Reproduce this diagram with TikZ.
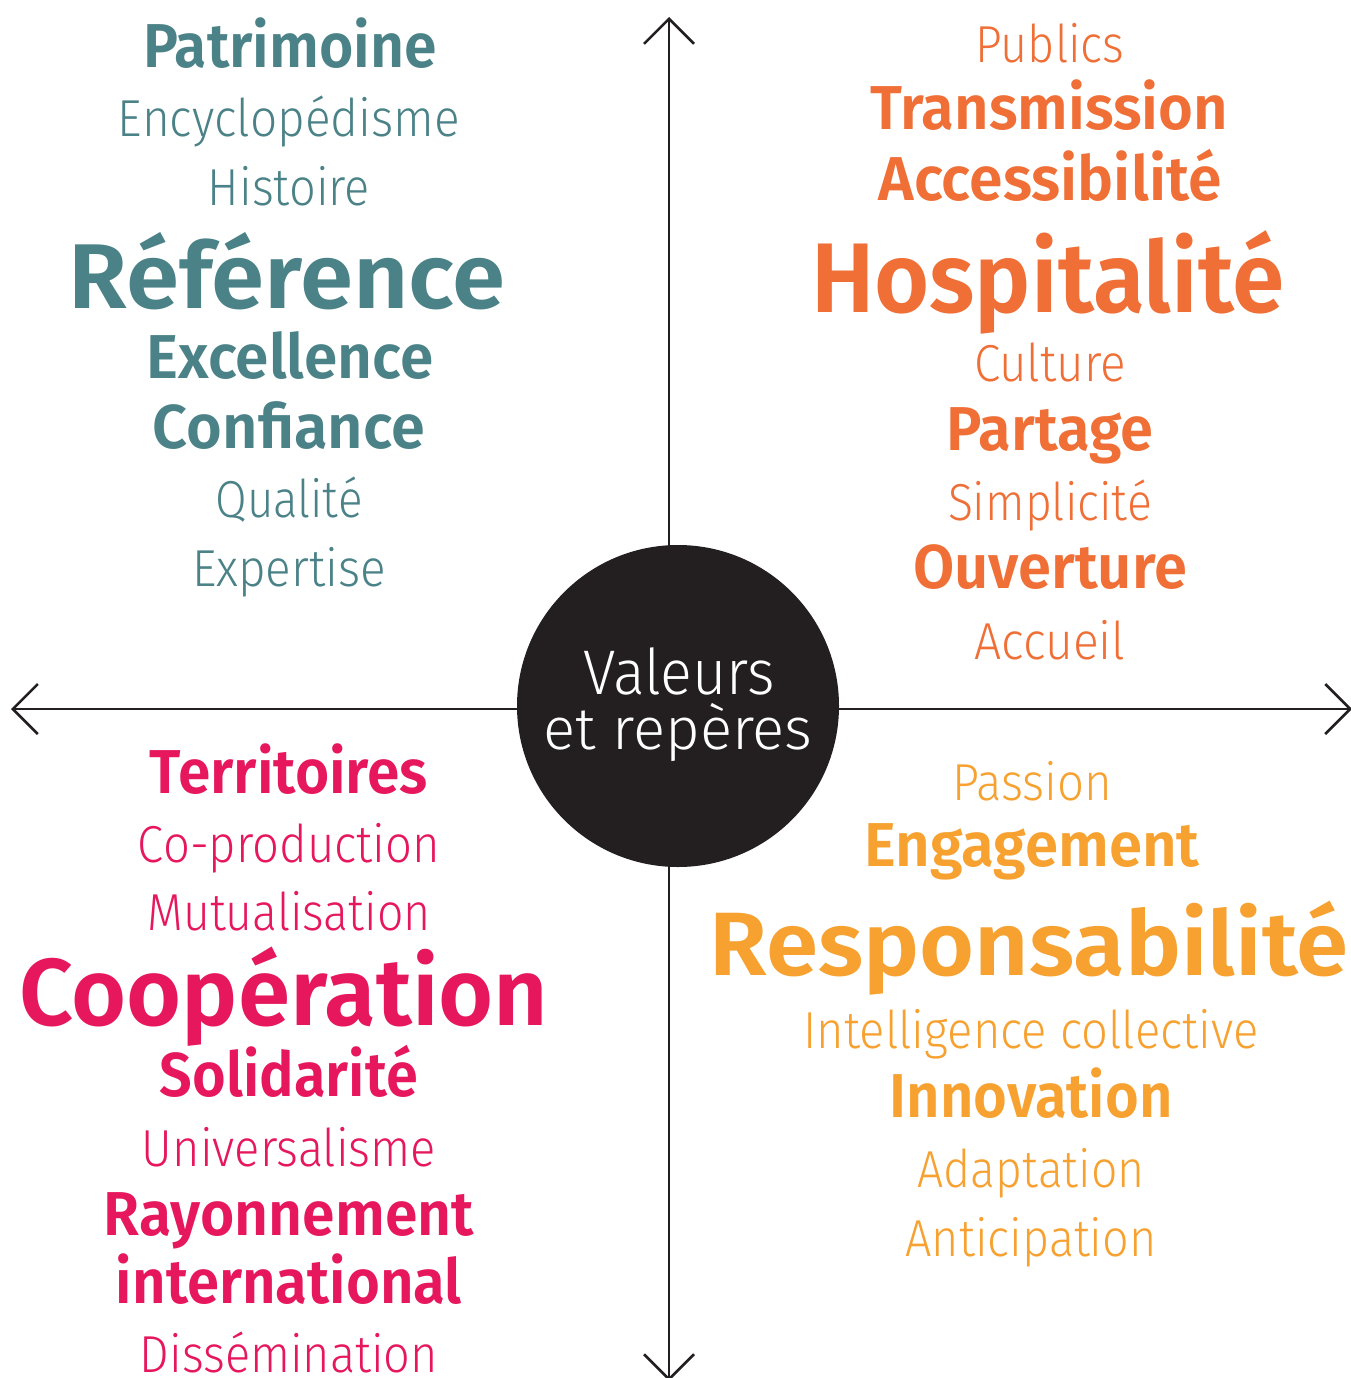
\documentclass[tikz,border=0pt]{standalone}
\usepackage{fontspec}
\usepackage{graphicx}
\usetikzlibrary{arrows.meta}
\newfontfamily\lightfont{Fira Sans Light}
\newfontfamily\semifont{Fira Sans SemiBold}
\definecolor{teal}{HTML}{4A8287}
\definecolor{orng}{HTML}{EF6F37}
\definecolor{magn}{HTML}{E6175C}
\definecolor{yell}{HTML}{F6A130}
\definecolor{ink}{HTML}{231F20}
\newcommand{\fw}[2]{\resizebox{#1pt}{\height}{#2}}
\begin{document}
\begin{tikzpicture}[x=1pt,y=-1pt,
  every node/.style={inner sep=0pt,outer sep=0pt,anchor=base},
  lt/.style={font=\lightfont\fontsize{52}{52}\selectfont},
  bd/.style={font=\semifont\fontsize{62}{62}\selectfont},
  hg/.style={font=\semifont\fontsize{92}{92}\selectfont},
  axis/.style={draw=ink,line width=2.5pt,-{Straight Barb[length=25pt,width=50pt,line width=2.5pt]}},
  cq/.style={text=teal},oq/.style={text=orng},mq/.style={text=magn},yq/.style={text=yell}]
\useasboundingbox (0,0) rectangle (1351,1378);
% axes
\coordinate (top) at (669,17);
\coordinate (bot) at (669,1381);
\coordinate (lft) at (11,709);
\coordinate (rgt) at (1352,709);
\coordinate (o) at (669,709);
\draw[axis] (o) -- (top);
\draw[axis] (o) -- (bot);
\draw[axis] (o) -- (lft);
\draw[axis] (o) -- (rgt);
% circle
\node[circle,fill=ink,minimum size=322pt,anchor=center] (c) at (678,706) {};
\node[font=\lightfont\fontsize{63}{63}\selectfont,text=white] (v1) at (679,694) {\fw{192}{Valeurs}};
\node[font=\lightfont\fontsize{59}{59}\selectfont,text=white] (v2) at (678,749) {\fw{269}{et repères}};
% top-left
\node[bd,cq] (a1) at (290,68) {\fw{294}{Patrimoine}};
\node[lt,cq] (a2) at (289,137) {\fw{342}{Encyclopédisme}};
\node[lt,cq] (a3) at (289,205) {\fw{162}{Histoire}};
\node[hg,cq] (a4) at (287,308) {\fw{437}{Référence}};
\node[bd,cq] (a5) at (290,378) {\fw{287}{Excellence}};
\node[bd,cq] (a6) at (289,448) {\fw{272}{Confiance}};
\node[lt,cq] (a7) at (289,517) {\fw{147}{Qualité}};
\node[lt,cq] (a8) at (289,586) {\fw{194}{Expertise}};
% top-right
\node[lt,oq] (b1) at (1050,63) {\fw{149}{Publics}};
\node[bd,oq] (b2) at (1049,130) {\fw{358}{Transmission}};
\node[bd,oq] (b3) at (1050,200) {\fw{343}{Accessibilité}};
\node[hg,oq,font=\semifont\fontsize{99}{99}\selectfont] (b4) at (1048,312) {\fw{474}{Hospitalité}};
\node[lt,oq] (b5) at (1050,381) {\fw{152}{Culture}};
\node[bd,oq] (b6) at (1050,450) {\fw{207}{Partage}};
\node[lt,oq] (b7) at (1050,520) {\fw{204}{Simplicité}};
\node[bd,oq] (b8) at (1050,588) {\fw{274}{Ouverture}};
\node[lt,oq] (b9) at (1050,659) {\fw{151}{Accueil}};
% bottom-left
\node[bd,mq] (m1) at (289,793) {\fw{278}{Territoires}};
\node[lt,mq] (m2) at (289,862) {\fw{302}{Co-production}};
\node[lt,mq] (m3) at (289,930) {\fw{283}{Mutualisation}};
\node[hg,mq,font=\semifont\fontsize{95}{95}\selectfont] (m4) at (284,1025) {\fw{529}{Coopération}};
\node[bd,mq] (m5) at (289,1096) {\fw{258}{Solidarité}};
\node[lt,mq] (m6) at (289,1166) {\fw{294}{Universalisme}};
\node[bd,mq] (m7) at (289,1235) {\fw{370}{Rayonnement}};
\node[bd,mq] (m8) at (289,1303) {\fw{346}{international}};
\node[lt,mq] (m9) at (289,1372) {\fw{298}{Dissémination}};
% bottom-right
\node[lt,yq] (y1) at (1032,800) {\fw{160}{Passion}};
\node[bd,yq] (y2) at (1032,866) {\fw{335}{Engagement}};
\node[hg,yq,font=\semifont\fontsize{90}{90}\selectfont] (y3) at (1029,975) {\fw{639}{Responsabilité}};
\node[lt,yq] (y4) at (1031,1048) {\fw{455}{Intelligence collective}};
\node[bd,yq] (y5) at (1031,1117) {\fw{283}{Innovation}};
\node[lt,yq] (y6) at (1031,1187) {\fw{227}{Adaptation}};
\node[lt,yq] (y7) at (1031,1256) {\fw{251}{Anticipation}};
\end{tikzpicture}
\end{document}
